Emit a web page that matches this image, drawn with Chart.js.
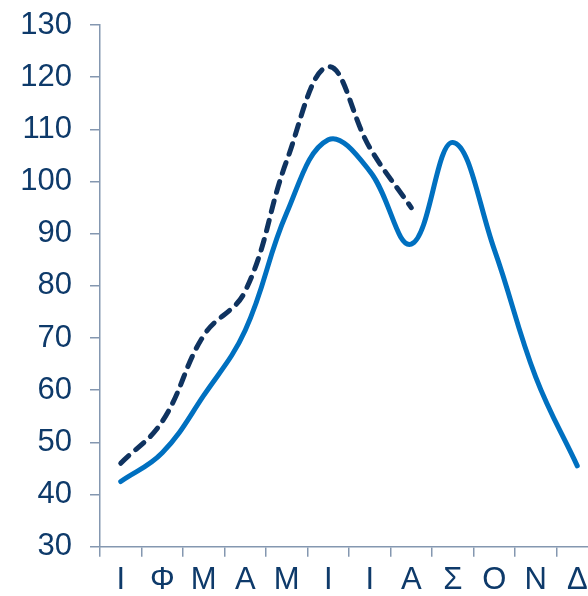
<!DOCTYPE html>
<html>
<head>
<meta charset="utf-8">
<script src="https://cdn.jsdelivr.net/npm/chart.js@4/dist/chart.umd.min.js"></script>
<style>
html, body { margin: 0; padding: 0; overflow: hidden; background: #fff; width: 588px; height: 596px; }
canvas { display: block; }
</style>
</head>
<body>
<canvas id="c" width="600" height="596" style="width:600px;height:596px"></canvas>
<script>
const months = ["Ι", "Φ", "Μ", "Α", "Μ", "Ι", "Ι", "Α", "Σ", "Ο", "Ν", "Δ"];
const solidSeries = [42.5, 48, 59, 71.5, 94, 108, 102, 88, 107.5, 87, 62.5, 45.5];
const dashedSeries = [46, 54, 70.5, 79, 104, 122, 106.5, 95];
const yMin = 30, yMax = 130, yStep = 10;

const textColor = '#0E3A6A';
const axisColor = '#8497B0';
const font = { family: 'Liberation Sans, Arial, sans-serif', size: 31 };

new Chart(document.getElementById('c'), {
  type: 'line',
  data: {
    labels: months,
    datasets: [
      {
        data: dashedSeries,
        borderColor: '#0F3360',
        borderWidth: 5,
        borderDash: [11, 9],
        borderCapStyle: 'round',
        pointRadius: 0,
        tension: 0.4,
        fill: false
      },
      {
        data: solidSeries,
        borderColor: '#0070C0',
        borderWidth: 5,
        borderCapStyle: 'round',
        pointRadius: 0,
        tension: 0.4,
        fill: false
      }
    ]
  },
  options: {
    responsive: false,
    devicePixelRatio: 1,
    animation: false,
    layout: { padding: { top: 25, right: 2, left: 0, bottom: 0 } },
    plugins: { legend: { display: false }, tooltip: { enabled: false } },
    scales: {
      x: {
        offset: true,
        grid: { offset: true, drawOnChartArea: false, drawTicks: true, tickLength: 10, color: axisColor, lineWidth: 1.5 },
        border: { color: axisColor, width: 1.5 },
        ticks: { color: textColor, font: font, padding: 5, maxRotation: 0, autoSkip: false },
        afterFit: s => { s.height = 596 - 546.7; s.paddingLeft = 0; s.paddingRight = 0; }
      },
      y: {
        min: yMin, max: yMax,
        grid: { drawOnChartArea: false, drawTicks: true, tickLength: 10, color: axisColor, lineWidth: 1.5 },
        border: { color: axisColor, width: 1.5 },
        ticks: { stepSize: yStep, color: textColor, font: font, padding: 18 },
        afterFit: s => { s.width = 100; s.paddingTop = 0; s.paddingBottom = 0; }
      }
    }
  }
});
</script>
</body>
</html>
